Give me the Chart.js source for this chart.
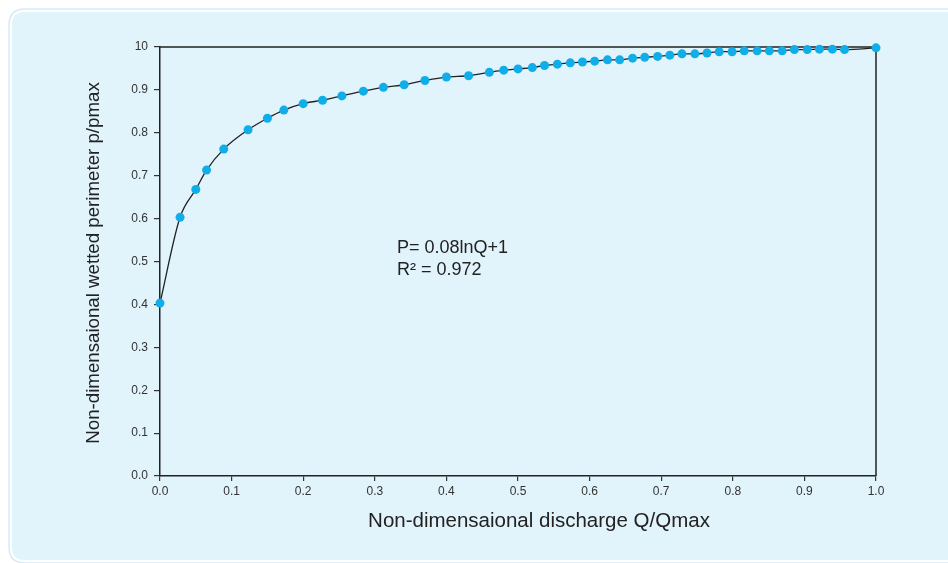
<!DOCTYPE html>
<html><head><meta charset="utf-8">
<script src="https://cdn.jsdelivr.net/npm/chart.js@4.4.0/dist/chart.umd.min.js"></script>
<style>html,body{margin:0;padding:0;background:#fff;overflow:hidden;} #wrap{width:948px;height:563px;position:relative;}</style>
</head><body><div id="wrap"><canvas id="c" width="948" height="563"></canvas></div>
<script>
const qRatio = [0.0, 0.028, 0.05, 0.065, 0.089, 0.123, 0.150, 0.173, 0.200, 0.227, 0.254, 0.284, 0.312, 0.341, 0.370, 0.400, 0.431, 0.460, 0.480, 0.500, 0.520, 0.537, 0.555, 0.573, 0.590, 0.607, 0.625, 0.642, 0.660, 0.677, 0.695, 0.712, 0.729, 0.747, 0.764, 0.781, 0.799, 0.816, 0.834, 0.851, 0.869, 0.886, 0.904, 0.921, 0.939, 0.956, 1.0];
const pRatio = [0.403, 0.603, 0.668, 0.713, 0.762, 0.807, 0.834, 0.853, 0.868, 0.876, 0.886, 0.897, 0.906, 0.912, 0.922, 0.930, 0.933, 0.941, 0.946, 0.949, 0.952, 0.957, 0.960, 0.963, 0.965, 0.967, 0.970, 0.970, 0.974, 0.976, 0.978, 0.981, 0.984, 0.984, 0.986, 0.989, 0.989, 0.991, 0.991, 0.991, 0.991, 0.994, 0.994, 0.995, 0.995, 0.994, 0.998];
const xTickLabels = ['0.0','0.1','0.2','0.3','0.4','0.5','0.6','0.7','0.8','0.9','1.0'];
const yTickLabels = ['0.0','0.1','0.2','0.3','0.4','0.5','0.6','0.7','0.8','0.9','10'];
const xTitle = 'Non-dimensaional discharge Q/Qmax';
const yTitle = 'Non-dimensaional wetted perimeter p/pmax';
const fitLines = ['P= 0.08lnQ+1', 'R\u00B2 = 0.972'];

const FONT = "'Liberation Sans', Arial, Helvetica, sans-serif";

function rr(ctx, x, y, w, h, r) {
  ctx.beginPath();
  ctx.moveTo(x + r, y);
  ctx.lineTo(x + w - r, y);
  ctx.quadraticCurveTo(x + w, y, x + w, y + r);
  ctx.lineTo(x + w, y + h - r);
  ctx.quadraticCurveTo(x + w, y + h, x + w - r, y + h);
  ctx.lineTo(x + r, y + h);
  ctx.quadraticCurveTo(x, y + h, x, y + h - r);
  ctx.lineTo(x, y + r);
  ctx.quadraticCurveTo(x, y, x + r, y);
  ctx.closePath();
}

const panelPlugin = {
  id: 'panel',
  beforeDraw(chart) {
    const ctx = chart.ctx;
    ctx.save();
    ctx.fillStyle = '#ffffff';
    ctx.fillRect(0, 0, chart.width, chart.height);
    rr(ctx, 9, 9, 960, 554, 16);
    ctx.strokeStyle = '#d3ecf8';
    ctx.lineWidth = 1.5;
    ctx.stroke();
    rr(ctx, 12, 12, 960, 548, 13);
    ctx.fillStyle = '#e1f3fb';
    ctx.fill();
    ctx.restore();
  },
  beforeDatasetsDraw(chart) {
    const ctx = chart.ctx, a = chart.chartArea;
    ctx.save();
    ctx.strokeStyle = '#222';
    ctx.lineWidth = 1.5;
    ctx.beginPath();
    ctx.moveTo(a.left, a.top);
    ctx.lineTo(a.right, a.top);
    ctx.lineTo(a.right, a.bottom);
    ctx.stroke();
    ctx.restore();
  },
  afterDraw(chart) {
    const ctx = chart.ctx;
    ctx.save();
    ctx.fillStyle = '#222';
    ctx.textAlign = 'center';
    ctx.textBaseline = 'alphabetic';
    ctx.font = '20.5px ' + FONT;
    ctx.fillText(xTitle, 539, 527);
    ctx.font = '18.7px ' + FONT;
    ctx.translate(99, 263);
    ctx.rotate(-Math.PI / 2);
    ctx.fillText(yTitle, 0, 0);
    ctx.restore();
    ctx.save();
    ctx.fillStyle = '#222';
    ctx.font = '18px ' + FONT;
    ctx.textAlign = 'left';
    ctx.textBaseline = 'alphabetic';
    ctx.fillText(fitLines[0], 397, 253);
    ctx.fillText(fitLines[1], 397, 275);
    ctx.restore();
  }
};

new Chart(document.getElementById('c'), {
  type: 'line',
  data: {
    datasets: [{
      data: qRatio.map((q, i) => ({ x: q, y: pRatio[i] })),
      borderColor: '#222',
      borderWidth: 1.3,
      pointBackgroundColor: '#10aee9',
      pointBorderWidth: 0,
      pointRadius: 4.5,
      cubicInterpolationMode: 'monotone',
      clip: false
    }]
  },
  options: {
    responsive: false,
    animation: false,
    devicePixelRatio: 1,
    layout: { padding: { left: 0, right: 72, top: 47, bottom: 0 } },
    plugins: { legend: { display: false }, tooltip: { enabled: false } },
    scales: {
      x: {
        type: 'linear', min: 0, max: 1,
        afterFit(s) { s.height = 87; },
        border: { display: true, color: '#222', width: 1.5 },
        grid: { drawOnChartArea: false, drawTicks: true, tickLength: 5, color: '#333', tickColor: '#333', lineWidth: 1.2 },
        ticks: { stepSize: 0.1, autoSkip: false, maxRotation: 0, padding: 3, color: '#333', font: { family: FONT, size: 12 },
                 callback: (v, i) => xTickLabels[i] }
      },
      y: {
        type: 'linear', min: 0, max: 1,
        afterFit(s) { s.width = 160; },
        border: { display: true, color: '#222', width: 1.5 },
        grid: { drawOnChartArea: false, drawTicks: true, tickLength: 6, color: '#333', tickColor: '#333', lineWidth: 1.2 },
        ticks: { stepSize: 0.1, autoSkip: false, padding: 6, color: '#333', font: { family: FONT, size: 12 },
                 callback: (v, i) => yTickLabels[i] }
      }
    }
  },
  plugins: [panelPlugin]
});
</script>
</body></html>
